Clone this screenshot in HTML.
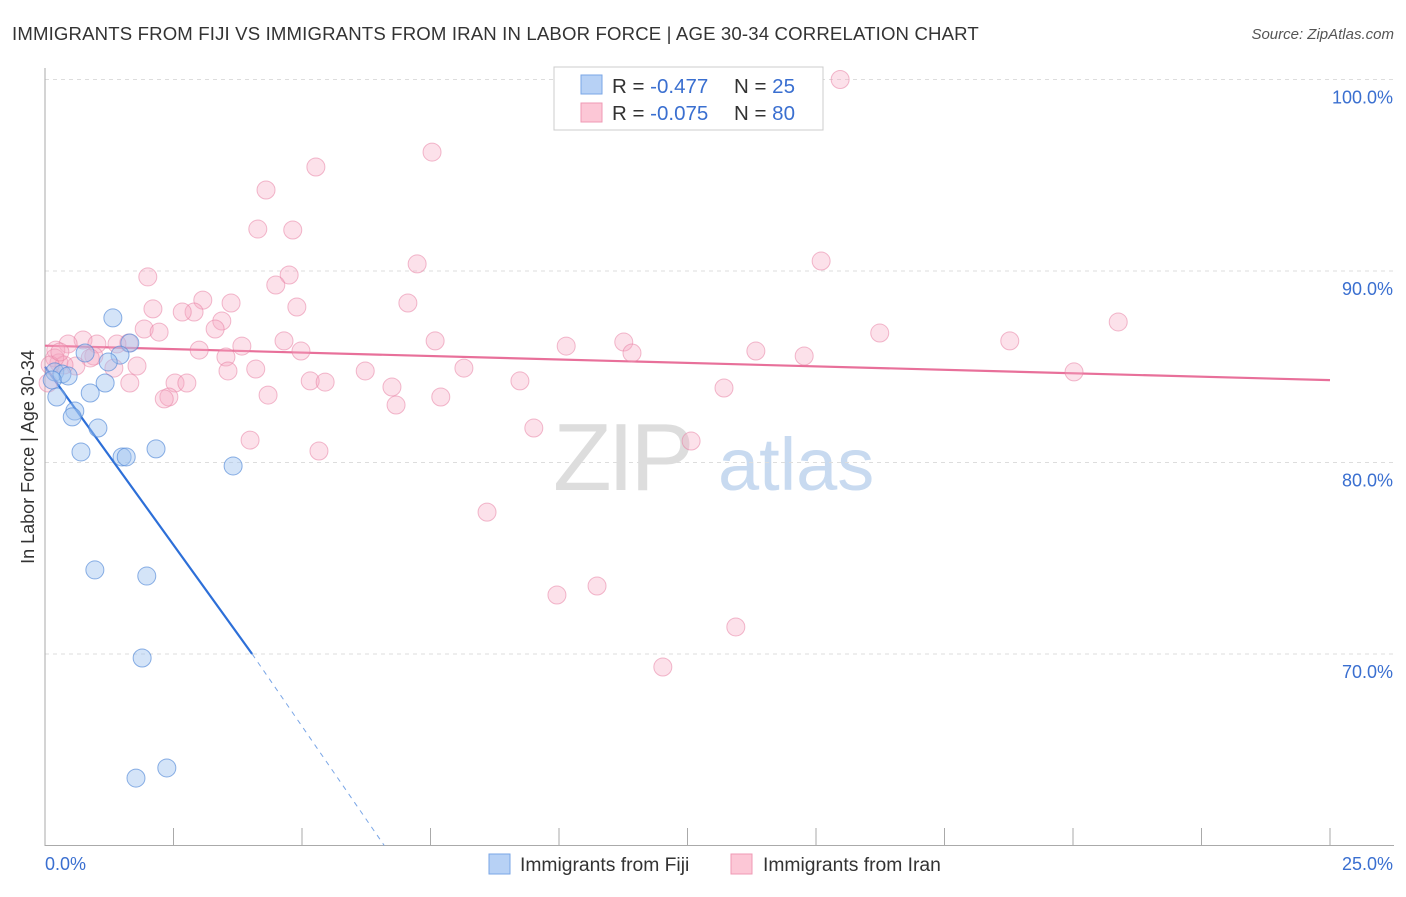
<!DOCTYPE html>
<html><head><meta charset="utf-8"><style>
body{margin:0;background:#fff;font-family:"Liberation Sans",sans-serif;}
svg text{font-family:"Liberation Sans",sans-serif;}
</style></head><body>
<svg id="chart" width="1406" height="892" xmlns="http://www.w3.org/2000/svg">
<text x="12" y="40" font-size="18.6" letter-spacing="0.15" fill="#333">IMMIGRANTS FROM FIJI VS IMMIGRANTS FROM IRAN IN LABOR FORCE | AGE 30-34 CORRELATION CHART</text>
<text x="1394" y="39" font-size="15" fill="#555" text-anchor="end" font-style="italic">Source: ZipAtlas.com</text>
<g>
<text x="553" y="490" font-size="96" fill="#ddd" font-family="Liberation Serif" letter-spacing="-4">ZIP</text>
<text x="718" y="490" font-size="74" fill="#c8daf0">atlas</text>
</g>
<g id="grid"></g>
<g id="axes"></g>
<g id="lines"></g>
<g id="pts"></g>
<text transform="translate(34,457) rotate(-90)" font-size="18" fill="#333" text-anchor="middle">In Labor Force | Age 30-34</text>
<g>
<rect x="554" y="67" width="269" height="63" fill="#fff" stroke="#ccc"/>
<rect x="581" y="75" width="21" height="19" fill="#b7d1f5" stroke="#7aa6e6"/>
<rect x="581" y="103" width="21" height="19" fill="#fcc7d6" stroke="#ef9ab4"/>
<text x="612" y="93" font-size="20.5" fill="#333">R = <tspan fill="#3a6fd0">-0.477</tspan><tspan x="734">N = </tspan><tspan fill="#3a6fd0">25</tspan></text>
<text x="612" y="120" font-size="20.5" fill="#333">R = <tspan fill="#3a6fd0">-0.075</tspan><tspan x="734">N = </tspan><tspan fill="#3a6fd0">80</tspan></text>
</g>
<g>
<rect x="489" y="854" width="21" height="20" fill="#b7d1f5" stroke="#7aa6e6"/>
<text x="520" y="871" font-size="19.3" fill="#333">Immigrants from Fiji</text>
<rect x="731" y="854" width="21" height="20" fill="#fcc7d6" stroke="#ef9ab4"/>
<text x="763" y="871" font-size="19.3" fill="#333">Immigrants from Iran</text>
</g>
</svg>
<script>
const fijiX=[1.32,1.65,0.78,1.46,1.23,0.19,0.33,0.45,0.14,1.17,0.88,0.23,0.58,0.53,1.03,0.70,1.50,1.58,2.16,3.66,0.97,1.98,1.89,1.77,2.37];
const fijiY=[87.55,86.24,85.72,85.61,85.25,84.73,84.62,84.52,84.31,84.15,83.63,83.42,82.69,82.38,81.80,80.55,80.29,80.29,80.71,79.82,74.39,74.07,69.79,63.52,64.05];
const iranX=[15.47,7.53,5.27,4.30,4.14,4.82,15.10,7.24,2.00,4.75,4.49,3.07,3.62,7.06,4.90,2.10,2.90,2.67,3.44,1.93,2.22,3.31,16.24,20.88,18.77,7.59,4.65,11.26,10.14,0.74,1.01,1.63,1.40,0.45,3.83,3.00,4.98,11.42,13.83,14.77,0.21,0.95,0.27,0.88,1.79,3.52,3.56,4.10,6.23,8.15,1.34,0.60,0.37,1.65,2.53,2.76,5.16,5.45,9.24,6.75,13.21,4.34,2.41,2.32,7.70,6.83,20.02,9.51,3.99,12.57,5.33,8.60,9.96,10.74,13.44,12.02,0.19,0.10,0.06,0.29];
const iranY=[100.0,96.21,95.43,94.23,92.19,92.14,90.52,90.37,89.69,89.79,89.27,88.48,88.33,88.33,88.12,88.02,87.86,87.86,87.39,86.97,86.81,86.97,86.76,87.34,86.35,86.35,86.35,86.29,86.08,86.40,86.19,86.24,86.19,86.19,86.08,85.87,85.82,85.72,85.82,85.56,85.87,85.56,85.20,85.46,85.04,85.51,84.78,84.88,84.78,84.93,84.93,85.04,85.09,84.15,84.15,84.15,84.26,84.20,84.26,83.94,83.89,83.52,83.42,83.32,83.42,83.00,84.73,81.80,81.17,81.12,80.60,77.41,73.08,73.55,71.41,69.32,85.46,85.09,84.15,85.77];
const yTicks=[100,90,80,70];
const yTickLabels=["100.0%","90.0%","80.0%","70.0%"];
const xTicks=[0,2.5,5,7.5,10,12.5,15,17.5,20,22.5,25];
const xEndLabels=["0.0%","25.0%"];
const fijiTrend=[[0,85.0],[4.03,70.0],[6.6,60.0]];
const iranTrend=[[0,86.1],[25,84.3]];
const NS="http://www.w3.org/2000/svg";
const sx=v=>45+v/25*1285;
const sy=v=>79.5+(100-v)/10*191.5;
function mk(p,t,a){const e=document.createElementNS(NS,t);for(const k in a)e.setAttribute(k,a[k]);p.appendChild(e);return e;}
const grid=document.getElementById('grid'),axes=document.getElementById('axes');
yTicks.forEach((v,i)=>{
 const l=mk(grid,'line',{x1:45,x2:1394,y1:sy(v),y2:sy(v),stroke:'#ddd','stroke-dasharray':'4,4'});
 
 
 const t=mk(axes,'text',{x:1393,y:sy(v)+24,'font-size':18,fill:'#3a6fd0','text-anchor':'end'});
 t.textContent=yTickLabels[i];
 
 
});
const ya=mk(axes,'line',{x1:45,x2:45,y1:68,y2:846,stroke:'#aaa'});


const xa=mk(axes,'line',{x1:45,x2:1394,y1:845.5,y2:845.5,stroke:'#aaa'});


xTicks.forEach(v=>{
 const t=mk(axes,'line',{x1:sx(v),x2:sx(v),y1:828,y2:846,stroke:'#aaa'});
 
 
});
const xl0=mk(axes,'text',{x:45,y:870,'font-size':18,fill:'#3a6fd0'});xl0.textContent=xEndLabels[0];


const xl1=mk(axes,'text',{x:1393,y:870,'font-size':18,fill:'#3a6fd0','text-anchor':'end'});xl1.textContent=xEndLabels[1];


const pts=document.getElementById('pts');
iranX.forEach((x,i)=>{
 const c=mk(pts,'circle',{cx:sx(x),cy:sy(iranY[i]),r:9,fill:'rgba(246,170,194,0.35)',stroke:'rgba(232,130,164,0.55)','stroke-width':1});
 
 
});
fijiX.forEach((x,i)=>{
 const c=mk(pts,'circle',{cx:sx(x),cy:sy(fijiY[i]),r:9,fill:'rgba(160,196,240,0.45)',stroke:'rgba(80,135,215,0.65)','stroke-width':1});
 
 
});
const lines=document.getElementById('lines');
const il=mk(lines,'line',{x1:sx(iranTrend[0][0]),y1:sy(iranTrend[0][1]),x2:sx(iranTrend[1][0]),y2:sy(iranTrend[1][1]),stroke:'#e8709a','stroke-width':2.2});


const fl=mk(lines,'line',{x1:sx(fijiTrend[0][0]),y1:sy(fijiTrend[0][1]),x2:sx(fijiTrend[1][0]),y2:sy(fijiTrend[1][1]),stroke:'#2d6fd8','stroke-width':2.2});


const fd=mk(lines,'line',{x1:sx(fijiTrend[1][0]),y1:sy(fijiTrend[1][1]),x2:sx(fijiTrend[2][0]),y2:sy(fijiTrend[2][1]),stroke:'#7aa6e6','stroke-width':1,'stroke-dasharray':'5,5'});


</script>
</body></html>
